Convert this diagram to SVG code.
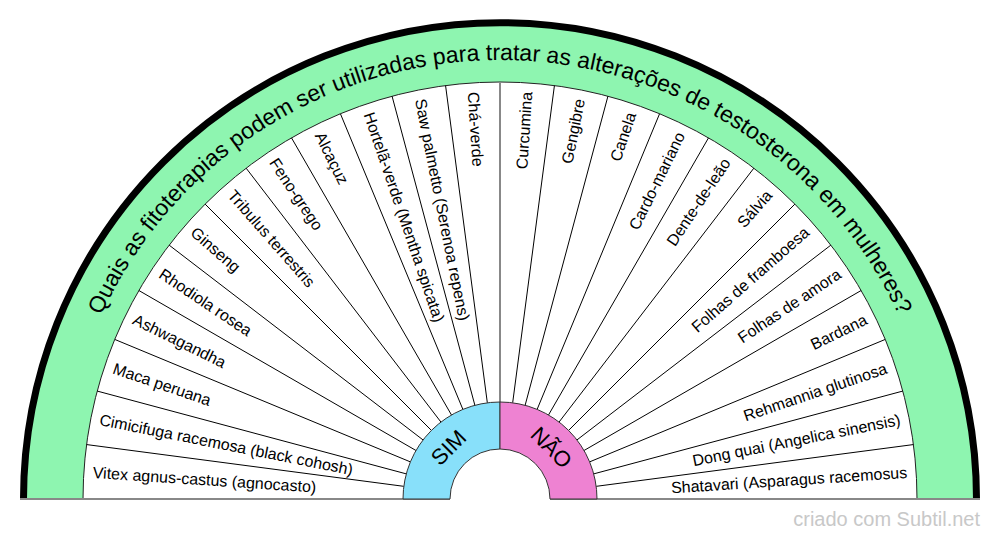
<svg xmlns="http://www.w3.org/2000/svg" width="1000" height="540" viewBox="0 0 1000 540">
<style>
.lbl{font-family:"Liberation Sans",Arial,sans-serif;font-size:16px;fill:#000}
.l{text-anchor:start}
.r{text-anchor:end}
.title{font-family:"Liberation Sans",Arial,sans-serif;font-size:23px;fill:#000}
.ans{font-family:"Liberation Sans",Arial,sans-serif;font-size:22px;fill:#000;text-anchor:middle}
.sect{stroke:#000;stroke-width:1;fill:none}
</style>
<defs>
<path id="titlePath" d="M 61 499 A 439 439 0 0 1 939 499"/>
</defs>
<rect width="1000" height="540" fill="#fff"/>
<g id="ring">
<path d="M 23.5 499 A 476.5 476.5 0 0 1 976.5 499" fill="#8ef5b0" stroke="#000" stroke-width="7"/>
<path d="M 83 499 A 417 417 0 0 1 917 499" fill="#fff" stroke="#222" stroke-width="1"/>
</g>
<g id="title">
<text class="title"><textPath href="#titlePath" startOffset="50%" text-anchor="middle">Quais as fitoterapias podem ser utilizadas para tratar as alterações de testosterona em mulheres?</textPath></text>
</g>
<g id="connectors">
<path class="sect" transform="translate(500,499)" d="M96.17,-12.66L413.43,-54.43M93.70,-25.11L402.79,-107.93M89.62,-37.12L385.26,-159.58M84.00,-48.50L361.13,-208.50M76.95,-59.05L330.83,-253.85M68.59,-68.59L294.86,-294.86M59.05,-76.95L253.85,-330.83M48.50,-84.00L208.50,-361.13M37.12,-89.62L159.58,-385.26M25.11,-93.70L107.93,-402.79M12.66,-96.17L54.43,-413.43M-96.17,-12.66L-413.43,-54.43M-93.70,-25.11L-402.79,-107.93M-89.62,-37.12L-385.26,-159.58M-84.00,-48.50L-361.13,-208.50M-76.95,-59.05L-330.83,-253.85M-68.59,-68.59L-294.86,-294.86M-59.05,-76.95L-253.85,-330.83M-48.50,-84.00L-208.50,-361.13M-37.12,-89.62L-159.58,-385.26M-25.11,-93.70L-107.93,-402.79M-12.66,-96.17L-54.43,-413.43"/>
<line x1="500" y1="402" x2="500" y2="82" stroke="#888" stroke-width="2"/>
<line x1="20" y1="499" x2="450" y2="499" stroke="#888" stroke-width="2"/>
<line x1="550" y1="499" x2="980" y2="499" stroke="#888" stroke-width="2"/>
</g>
<g id="sim">
<path d="M 403 499 A 97 97 0 0 1 500 402 L 500 449 A 50 50 0 0 0 450 499 Z" fill="#88e0fa" stroke="#333" stroke-width="1"/>
<text class="ans" x="448.5" y="447.5" dy="0.35em" transform="rotate(-45 448.5 447.5)">SIM</text>
</g>
<g id="nao">
<path d="M 500 402 A 97 97 0 0 1 597 499 L 550 499 A 50 50 0 0 0 500 449 Z" fill="#ee82d2" stroke="#333" stroke-width="1"/>
<text class="ans" x="551.5" y="447.5" dy="0.35em" transform="rotate(45 551.5 447.5)">NÃO</text>
</g>
<g id="labels-sim">
<text id="n-vitex" class="lbl l" x="92.87" y="472.32" dy="0.35em" transform="rotate(3.75 92.87 472.32)">Vitex agnus-castus (agnocasto)</text>
<text id="n-cimicifuga" class="lbl l" x="99.84" y="419.40" dy="0.35em" transform="rotate(11.25 99.84 419.40)">Cimicifuga racemosa (black cohosh)</text>
<text id="n-maca" class="lbl l" x="113.65" y="367.85" dy="0.35em" transform="rotate(18.75 113.65 367.85)">Maca peruana</text>
<text id="n-ashwagandha" class="lbl l" x="134.08" y="318.55" dy="0.35em" transform="rotate(26.25 134.08 318.55)">Ashwagandha</text>
<text id="n-rhodiola" class="lbl l" x="160.76" y="272.33" dy="0.35em" transform="rotate(33.75 160.76 272.33)">Rhodiola rosea</text>
<text id="n-ginseng" class="lbl l" x="193.25" y="229.99" dy="0.35em" transform="rotate(41.25 193.25 229.99)">Ginseng</text>
<text id="n-tribulus" class="lbl l" x="230.99" y="192.25" dy="0.35em" transform="rotate(48.75 230.99 192.25)">Tribulus terrestris</text>
<text id="n-feno" class="lbl l" x="273.33" y="159.76" dy="0.35em" transform="rotate(56.25 273.33 159.76)">Feno-grego</text>
<text id="n-alcacuz" class="lbl l" x="319.55" y="133.08" dy="0.35em" transform="rotate(63.75 319.55 133.08)">Alcaçuz</text>
<text id="n-hortela" class="lbl l" x="368.85" y="112.65" dy="0.35em" transform="rotate(71.25 368.85 112.65)">Hortelã-verde (Mentha spicata)</text>
<text id="n-saw" class="lbl l" x="420.40" y="98.84" dy="0.35em" transform="rotate(78.75 420.40 98.84)">Saw palmetto (Serenoa repens)</text>
<text id="n-cha" class="lbl l" x="473.32" y="91.87" dy="0.35em" transform="rotate(86.25 473.32 91.87)">Chá-verde</text>
</g>
<g id="labels-nao">
<text id="n-curcumina" class="lbl r" x="526.68" y="91.87" dy="0.35em" transform="rotate(-86.25 526.68 91.87)">Curcumina</text>
<text id="n-gengibre" class="lbl r" x="579.60" y="98.84" dy="0.35em" transform="rotate(-78.75 579.60 98.84)">Gengibre</text>
<text id="n-canela" class="lbl r" x="631.15" y="112.65" dy="0.35em" transform="rotate(-71.25 631.15 112.65)">Canela</text>
<text id="n-cardo" class="lbl r" x="680.45" y="133.08" dy="0.35em" transform="rotate(-63.75 680.45 133.08)">Cardo-mariano</text>
<text id="n-dente" class="lbl r" x="726.67" y="159.76" dy="0.35em" transform="rotate(-56.25 726.67 159.76)">Dente-de-leão</text>
<text id="n-salvia" class="lbl r" x="769.01" y="192.25" dy="0.35em" transform="rotate(-48.75 769.01 192.25)">Sálvia</text>
<text id="n-framboesa" class="lbl r" x="806.75" y="229.99" dy="0.35em" transform="rotate(-41.25 806.75 229.99)">Folhas de framboesa</text>
<text id="n-amora" class="lbl r" x="839.24" y="272.33" dy="0.35em" transform="rotate(-33.75 839.24 272.33)">Folhas de amora</text>
<text id="n-bardana" class="lbl r" x="865.92" y="318.55" dy="0.35em" transform="rotate(-26.25 865.92 318.55)">Bardana</text>
<text id="n-rehmannia" class="lbl r" x="886.35" y="367.85" dy="0.35em" transform="rotate(-18.75 886.35 367.85)">Rehmannia glutinosa</text>
<text id="n-dongquai" class="lbl r" x="900.16" y="419.40" dy="0.35em" transform="rotate(-11.25 900.16 419.40)">Dong quai (Angelica sinensis)</text>
<text id="n-shatavari" class="lbl r" x="907.13" y="472.32" dy="0.35em" transform="rotate(-3.75 907.13 472.32)">Shatavari (Asparagus racemosus</text>
</g>
<text x="980" y="526" text-anchor="end" font-family="Liberation Sans, Arial, sans-serif" font-size="20" fill="#c8c8c8">criado com Subtil.net</text>
</svg>
